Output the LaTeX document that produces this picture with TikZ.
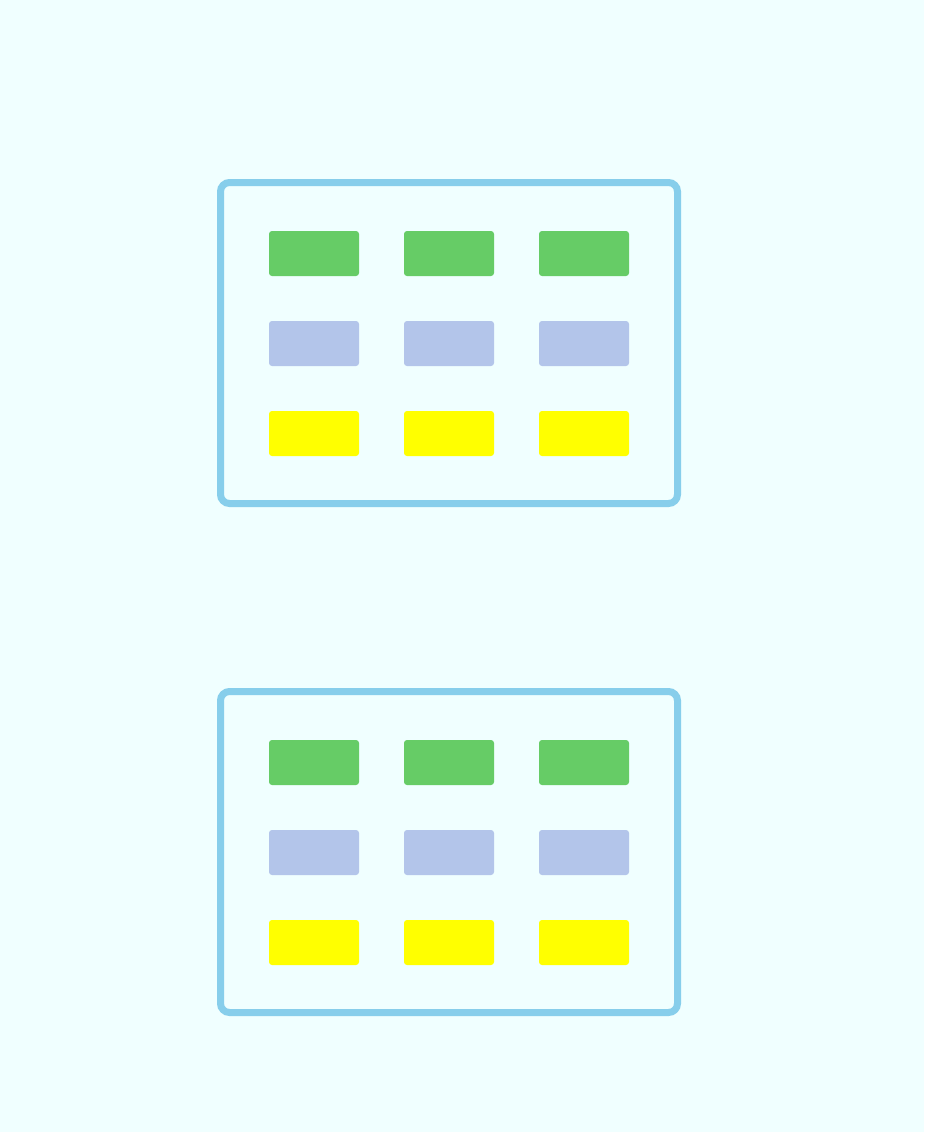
\documentclass[tikz,border=0pt]{standalone}
\usepackage{tikz}

\definecolor{bgazure}{RGB}{240,255,255}
\definecolor{framesky}{RGB}{135,206,235}
\definecolor{cellgreen}{RGB}{102,204,102}
\definecolor{cellblue}{RGB}{179,197,234}
\definecolor{cellyellow}{RGB}{255,255,0}

\tikzset{
  panel/.style={rectangle, draw=framesky, line width=7pt, rounded corners=9pt,
    minimum width=457pt, minimum height=321pt, inner sep=0pt},
  cell/.style={rectangle, rounded corners=3pt, minimum width=90pt,
    minimum height=45pt, inner sep=0pt},
  topcell/.style={cell, fill=cellgreen},
  midcell/.style={cell, fill=cellblue},
  lowcell/.style={cell, fill=cellyellow}
}

\begin{document}
\begin{tikzpicture}[x=1pt, y=-1pt]
\fill[bgazure] (0,0) rectangle (924,1132);
\useasboundingbox (0,0) rectangle (924,1132);

% upper panel
\path (449,343) node[panel] (p1) {}
      (314,253.5) node[topcell] (g11) {}
      (449,253.5) node[topcell] (g12) {}
      (584,253.5) node[topcell] (g13) {}
      (314,343.5) node[midcell] (b11) {}
      (449,343.5) node[midcell] (b12) {}
      (584,343.5) node[midcell] (b13) {}
      (314,433.5) node[lowcell] (y11) {}
      (449,433.5) node[lowcell] (y12) {}
      (584,433.5) node[lowcell] (y13) {};

% lower panel
\path (449,852) node[panel] (p2) {}
      (314,762.5) node[topcell] (g21) {}
      (449,762.5) node[topcell] (g22) {}
      (584,762.5) node[topcell] (g23) {}
      (314,852.5) node[midcell] (b21) {}
      (449,852.5) node[midcell] (b22) {}
      (584,852.5) node[midcell] (b23) {}
      (314,942.5) node[lowcell] (y21) {}
      (449,942.5) node[lowcell] (y22) {}
      (584,942.5) node[lowcell] (y23) {};

\end{tikzpicture}
\end{document}
